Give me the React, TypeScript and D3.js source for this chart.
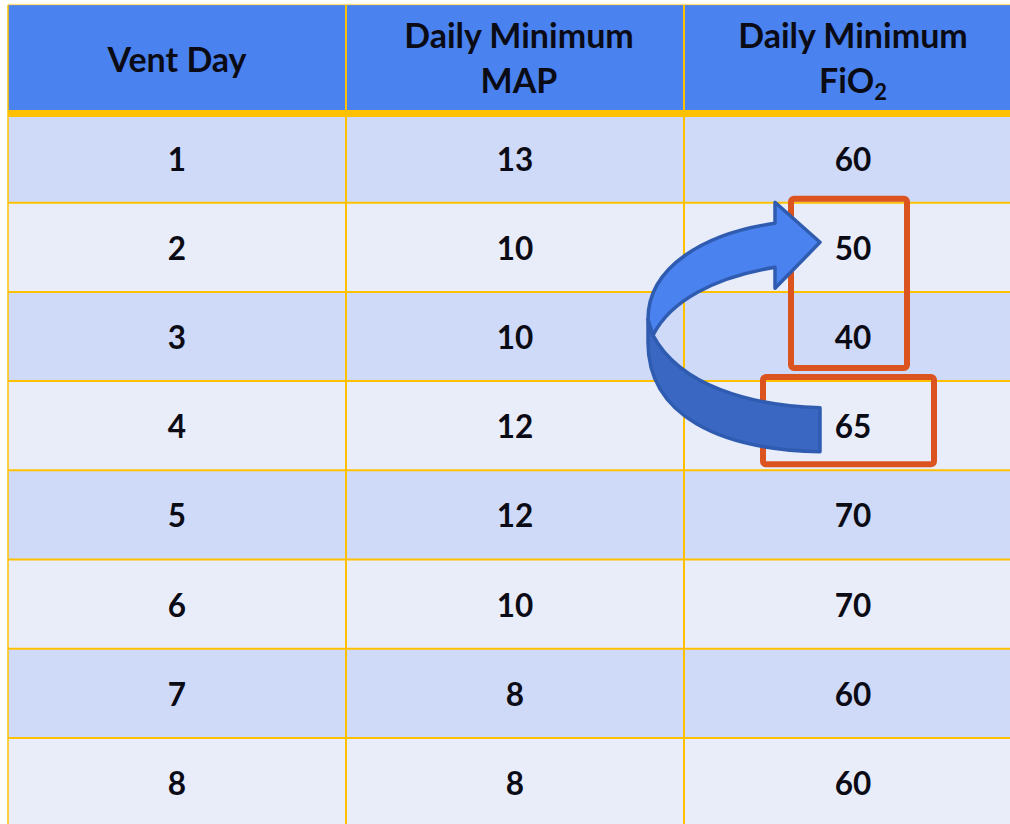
import React, { useRef, useEffect } from 'react';
import * as d3 from 'd3';

const days = ['1', '2', '3', '4', '5', '6', '7', '8'];
const minMAP = [13, 10, 10, 12, 12, 10, 8, 8];
const minFiO2 = [60, 50, 40, 65, 70, 70, 60, 60];
const columns = ['day', 'map', 'fio2'];

// highlighted cells (FiO2 column): the drop, and the day it rebounded
const droppedDays = ['2', '3'];
const reboundDay = '4';

const App = () => {
  const svgRef = useRef<SVGSVGElement>(null);

  useEffect(() => {
    const width = 1010;
    const height = 824;
    const gold = '#ffc000';
    const font = 'Lato, "Open Sans", sans-serif';

    const svg = d3.select(svgRef.current)
      .attr('width', width)
      .attr('height', height)
      .html('');

    svg.append('rect').attr('width', width).attr('height', height).attr('fill', '#ffffff');

    // --- Scales ---
    const x = d3.scaleBand().domain(columns).range([8, 1022]);
    const headerTop = 5;
    const bodyTop = 113.5;
    const y = d3.scaleBand().domain(days).range([bodyTop, bodyTop + days.length * 89.2]);
    const yc = (d: string) => (y(d) as number) + y.bandwidth() / 2;
    const xc = (c: string) => (x(c) as number) + x.bandwidth() / 2;

    // --- Header ---
    svg.append('rect')
      .attr('x', x.range()[0]).attr('y', headerTop)
      .attr('width', x.range()[1] - x.range()[0]).attr('height', bodyTop - headerTop)
      .attr('fill', '#4a83ef');

    // --- Body rows ---
    svg.append('g').selectAll('rect').data(days).join('rect')
      .attr('x', x.range()[0]).attr('y', d => y(d) as number)
      .attr('width', x.range()[1] - x.range()[0]).attr('height', y.bandwidth())
      .attr('fill', (d, i) => (i % 2 === 0 ? '#cfdaf8' : '#e9edfa'));

    // --- Grid lines ---
    const grid = svg.append('g').attr('stroke', gold);
    grid.selectAll('line.row').data(days.slice(1)).join('line')
      .attr('class', 'row')
      .attr('x1', x.range()[0]).attr('x2', x.range()[1])
      .attr('y1', d => y(d) as number).attr('y2', d => y(d) as number)
      .attr('stroke-width', 2);
    grid.selectAll('line.col').data(columns).join('line')
      .attr('class', 'col')
      .attr('x1', d => x(d) as number).attr('x2', d => x(d) as number)
      .attr('y1', headerTop).attr('y2', height)
      .attr('stroke-width', (d, i) => (i === 0 ? 1.5 : 2));
    grid.append('line')
      .attr('x1', x.range()[0]).attr('x2', x.range()[1])
      .attr('y1', headerTop - 0.5).attr('y2', headerTop - 0.5)
      .attr('stroke-width', 1.5).attr('stroke-opacity', 0.5);
    grid.append('line')
      .attr('x1', x.range()[0]).attr('x2', x.range()[1])
      .attr('y1', bodyTop).attr('y2', bodyTop)
      .attr('stroke-width', 7);

    // --- Header text ---
    const head = svg.append('g')
      .attr('font-family', font).attr('font-weight', 700).attr('font-size', 34)
      .attr('fill', '#0b0b16').attr('text-anchor', 'middle');
    head.append('text').attr('x', xc('day')).attr('y', 72).text('Vent Day');
    head.append('text').attr('x', xc('map') + 4).attr('y', 48).text('Daily Minimum');
    head.append('text').attr('x', xc('map') + 4).attr('y', 93).text('MAP');
    head.append('text').attr('x', xc('fio2')).attr('y', 48).text('Daily Minimum');
    const fio = head.append('text').attr('x', xc('fio2')).attr('y', 93);
    fio.append('tspan').text('FiO');
    fio.append('tspan').attr('font-size', 22).attr('dy', 7).text('2');

    // --- Cell values ---
    const body = svg.append('g')
      .attr('font-family', font).attr('font-weight', 700).attr('font-size', 31.5)
      .attr('fill', '#0b0b16').attr('text-anchor', 'middle');
    const cellRows = days.map((d, i) => ({ day: d, map: minMAP[i], fio2: minFiO2[i] }));
    columns.forEach(c => {
      body.append('g').selectAll('text').data(cellRows).join('text')
        .attr('x', xc(c))
        .attr('y', d => yc(d.day) + 12.5)
        .text(d => String((d as any)[c]));
    });

    // --- Highlight boxes ---
    const red = '#db541f';
    const colX = xc('fio2');
    svg.append('rect')
      .attr('x', colX - 62).attr('y', (y(droppedDays[0]) as number) - 4)
      .attr('width', 116)
      .attr('height', (y(droppedDays[droppedDays.length - 1]) as number) + y.bandwidth() - 13 - ((y(droppedDays[0]) as number) - 4))
      .attr('rx', 3)
      .attr('fill', 'none').attr('stroke', red).attr('stroke-width', 6);
    svg.append('rect')
      .attr('x', colX - 90).attr('y', (y(reboundDay) as number) - 4)
      .attr('width', 171).attr('height', y.bandwidth() - 2)
      .attr('rx', 3)
      .attr('fill', 'none').attr('stroke', red).attr('stroke-width', 6);

    // --- Curved arrow from rebound day back to the drop ---
    const ax = x('fio2') as number;
    const y2 = yc(droppedDays[0]);
    const y4 = yc(reboundDay);
    const lower = d3.path();
    lower.moveTo(ax - 31, y2 + 88);
    lower.bezierCurveTo(ax - 4, y4 - 40, ax + 66, y4 - 20, ax + 136, y4 - 18);
    lower.lineTo(ax + 136, y4 + 26);
    lower.bezierCurveTo(ax + 36, y4 + 24, ax - 36, y4 - 10, ax - 36, y2 + 95);
    lower.lineTo(ax - 36, y2 + 72);
    lower.closePath();
    const upper = d3.path();
    upper.moveTo(ax + 91, y2 - 24);
    upper.bezierCurveTo(ax + 20, y2 - 14, ax - 36, y2 + 20, ax - 36, y2 + 72);
    upper.lineTo(ax - 31, y2 + 88);
    upper.bezierCurveTo(ax - 14, y2 + 54, ax + 30, y2 + 30, ax + 91, y2 + 20);
    upper.lineTo(ax + 91, y2 + 41);
    upper.lineTo(ax + 136, y2 - 5);
    upper.lineTo(ax + 91, y2 - 45);
    upper.closePath();

    svg.append('path').attr('d', lower.toString())
      .attr('fill', '#3a67c2').attr('stroke', '#2f5cb0').attr('stroke-width', 3.5)
      .attr('stroke-linejoin', 'round');
    svg.append('path').attr('d', upper.toString())
      .attr('fill', '#4a82ef').attr('stroke', '#2f5cb0').attr('stroke-width', 3.5)
      .attr('stroke-linejoin', 'round');
  }, []);

  return (
    <svg ref={svgRef} style={{ position: 'absolute', left: 0, top: 0, display: 'block' }}></svg>
  );
};

export default App;
